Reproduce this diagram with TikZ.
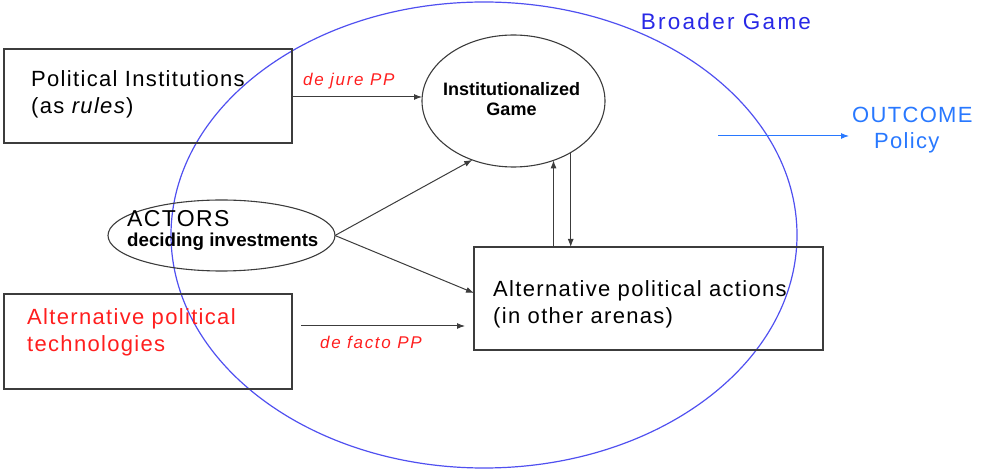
\documentclass[tikz,border=0pt]{standalone}
\usepackage{fontspec}
\setmainfont{Liberation Sans}
\newfontfamily\widefont[LetterSpace=6]{Liberation Sans}
\newfontfamily\widerfont[LetterSpace=10]{Liberation Sans}
\usetikzlibrary{shapes.geometric,arrows.meta}
\definecolor{linegray}{RGB}{60,60,60}
\definecolor{redtxt}{RGB}{255,30,30}
\definecolor{bigblue}{RGB}{80,80,240}
\definecolor{bgtxt}{RGB}{40,40,230}
\definecolor{outblue}{RGB}{40,120,255}
\tikzset{
  boxnode/.style={draw=linegray,line width=1.2pt,rectangle,inner sep=0pt,outer sep=0pt},
  ellnode/.style={draw=linegray,line width=1.1pt,ellipse,inner sep=0pt,outer sep=0pt},
  bigtext/.style={inner sep=0pt,align=left,font=\fontsize{22}{27}\selectfont\widefont},
  smalllabel/.style={inner sep=0pt,text=redtxt,font=\fontsize{17}{20}\selectfont\widerfont\itshape},
  arr/.style={draw=linegray,line width=1pt,-{Latex[length=8pt,width=6pt]}},
}
\begin{document}
\begin{tikzpicture}[x=1pt,y=-1pt]
\useasboundingbox (0,0) rectangle (986,470);
% broader game
\node[draw=bigblue,line width=1.2pt,ellipse,inner sep=0pt,minimum width=626pt,minimum height=466pt] (bg) at (484,235) {};
\node[inner sep=0pt,text=bgtxt,font=\fontsize{22.5}{27}\selectfont\widerfont] (bgl) at (726,21) {Broader Game};
% boxes
\node[boxnode,minimum width=288pt,minimum height=94pt] (pi) at (148,96) {};
\node[bigtext,anchor=west] (pit) at (31,94) {Political Institutions\\(as \textit{rules})};
\node[boxnode,minimum width=288pt,minimum height=95pt] (tech) at (148,341.5) {};
\node[bigtext,anchor=west,text=redtxt] (techt) at (27,332) {Alternative political\\technologies};
\node[boxnode,minimum width=349pt,minimum height=103pt] (apa) at (648.5,298.5) {};
\node[bigtext,anchor=west] (apat) at (493,304) {Alternative political actions\\(in other arenas)};
% ellipses
\node[ellnode,minimum width=183pt,minimum height=132pt] (ig) at (513.5,101) {};
\node[inner sep=0pt,align=center,font=\fontsize{18}{20}\selectfont\bfseries] (igt) at (511.5,99.5) {Institutionalized\\Game};
\node[ellnode,minimum width=227pt,minimum height=71pt] (ac) at (221.5,235.5) {};
\node[inner sep=0pt,anchor=west,font=\fontsize{23}{27}\selectfont\widefont] (act) at (127,219) {ACTORS};
\node[inner sep=0pt,anchor=west,font=\fontsize{18.7}{22}\selectfont\bfseries] (acd) at (127,242) {deciding investments};
% labels
\node[smalllabel,anchor=west] (dj) at (303,81) {de jure PP};
\node[smalllabel,anchor=west] (df) at (320,342) {de facto PP};
% connectors
\draw[arr] (pi.east |- 0,97) -- (pi.east |- 0,97 -| ig.west);
\draw[arr] (ac.east) -- (ig.235.3);
\draw[arr] (ac.east) -- ([yshift=5.5pt]apa.west);
\draw[arr] (ig.-56.4 |- apa.north) -- (ig.-56.4);
\draw[arr] (ig.-42.6) -- (ig.-42.6 |- apa.north);
\coordinate (t1) at ([yshift=15.5pt]tech.east);
\draw[arr,shorten <=9pt,shorten >=9pt] (t1) -- (t1 -| apa.west);
% outcome
\coordinate (o1) at (718,136);
\coordinate (o2) at (849,136);
\draw[draw=outblue,line width=1pt,-{Latex[length=8pt,width=6pt]}] (o1) -- (o2);
\node[inner sep=0pt,anchor=west,text=outblue,font=\fontsize{22}{27}\selectfont\widefont] (out) at (852,115) {OUTCOME};
\node[inner sep=0pt,anchor=west,text=outblue,font=\fontsize{22}{27}\selectfont\widefont] (pol) at (874,143) {Policy};
\end{tikzpicture}
\end{document}
